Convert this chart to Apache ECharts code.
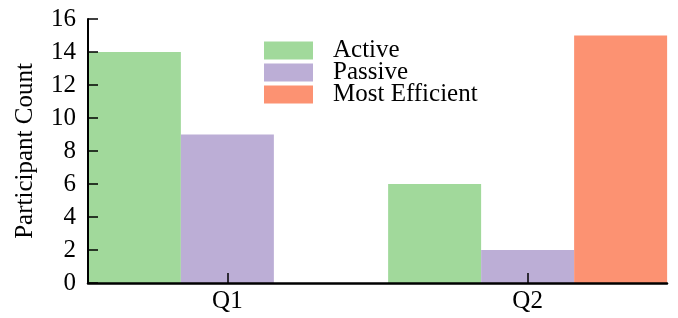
<!DOCTYPE html>
<html>
<head>
<meta charset="utf-8">
<script src="https://cdn.jsdelivr.net/npm/echarts@6/dist/echarts.min.js"></script>
<style>
  html, body { margin: 0; padding: 0; background: #fff; }
</style>
</head>
<body>
<div id="chart" style="width: 678px; height: 318px"></div>
<script>
// data
const categories = ['Q1', 'Q2']
const categoryPos = [0, 1]
const seriesNames = ['Active', 'Passive', 'Most Efficient']
const active = [14, 6]
const passive = [9, 2]
const mostEfficient = [0, 15]
const yTicks = [0, 2, 4, 6, 8, 10, 12, 14, 16]

const colors = ['#a1d99b', '#bcaed6', '#fc9272']
const font = 'Liberation Serif'

function pairs(values) {
  return categoryPos.map((x, i) => [x, values[i]])
}

var myChart = echarts.init(document.getElementById('chart'))
const option = {
  animation: false,
  grid: { left: 88, right: 11, top: 19, bottom: 35 },
  legend: {
    orient: 'vertical',
    left: 264,
    top: 38,
    padding: 0,
    icon: 'rect',
    itemWidth: 49,
    itemHeight: 18,
    itemGap: -3,
    textStyle: { fontFamily: font, fontSize: 25, color: '#000', padding: [0, 0, 0, 15] },
    data: seriesNames
  },
  xAxis: {
    type: 'value',
    z: 3,
    min: -0.4642,
    max: 1.4642,
    splitLine: { show: false },
    axisLine: { show: true, onZero: false, lineStyle: { color: '#000', width: 2.5 } },
    axisTick: { show: true, inside: true, length: 10, customValues: categoryPos, lineStyle: { color: '#000', width: 1.5 } },
    axisLabel: {
      customValues: categoryPos,
      formatter: function (v) { return categories[Math.round(v)] },
      fontFamily: font, fontSize: 25, color: '#000', margin: 6
    }
  },
  yAxis: {
    type: 'value',
    z: 3,
    min: 0,
    max: 16,
    interval: 2,
    name: 'Participant Count',
    nameLocation: 'middle',
    nameGap: 50,
    nameTextStyle: { fontFamily: font, fontSize: 25, color: '#000' },
    splitLine: { show: false },
    axisLine: { show: true, onZero: false, lineStyle: { color: '#000', width: 2 } },
    axisTick: { show: true, inside: true, length: 10, lineStyle: { color: '#000', width: 1.5 } },
    axisLabel: {
      customValues: yTicks,
      fontFamily: font, fontSize: 25, color: '#000', margin: 12
    }
  },
  series: [
    { name: seriesNames[0], type: 'bar', barWidth: 93, barGap: '0%', itemStyle: { color: colors[0] }, data: pairs(active) },
    { name: seriesNames[1], type: 'bar', barWidth: 93, barGap: '0%', itemStyle: { color: colors[1] }, data: pairs(passive) },
    { name: seriesNames[2], type: 'bar', barWidth: 93, barGap: '0%', itemStyle: { color: colors[2] }, data: pairs(mostEfficient) }
  ]
}
myChart.setOption(option)
</script>
</body>
</html>
